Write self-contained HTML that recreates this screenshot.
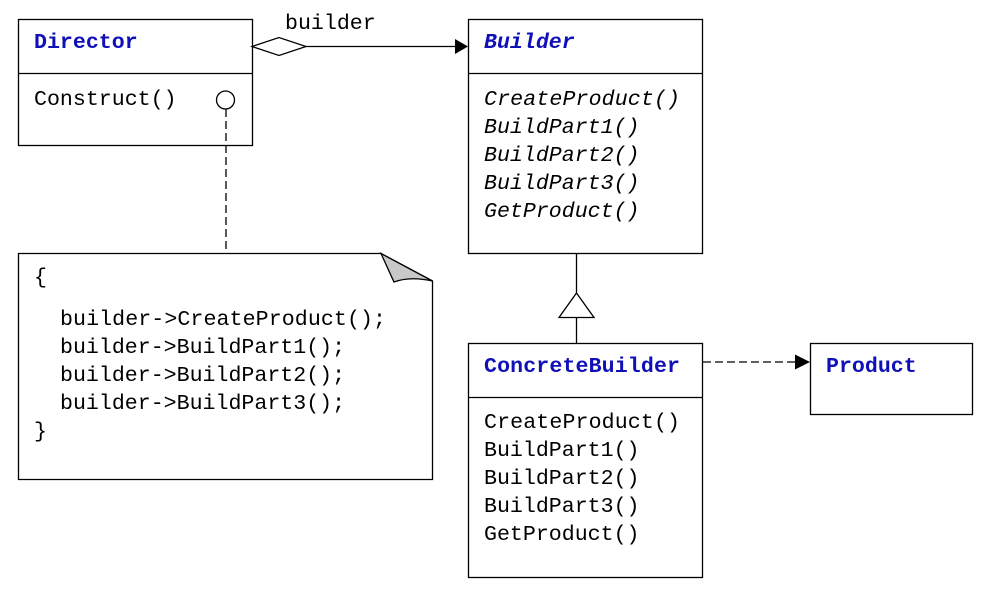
<!DOCTYPE html>
<html><head><meta charset="utf-8"><style>
html,body{margin:0;padding:0;background:#fff;}
svg{display:block;}
text{font-family:"Liberation Mono","DejaVu Sans Mono",monospace;font-size:21.6px;fill:#000;}
.t{fill:#1010b8;font-weight:bold;}
.i{font-style:italic;}
</style></head><body>
<svg width="989" height="598" viewBox="0 0 989 598" xmlns="http://www.w3.org/2000/svg">
<g fill="none" stroke="#000" stroke-width="1.3">
<rect x="18.5" y="19.5" width="234" height="126"/>
<line x1="18" y1="73.5" x2="252" y2="73.5"/>
<rect x="468.5" y="19.5" width="234" height="234"/>
<line x1="468" y1="73.5" x2="702" y2="73.5"/>
<rect x="468.5" y="343.5" width="234" height="234"/>
<line x1="468" y1="397.5" x2="702" y2="397.5"/>
<rect x="810.5" y="343.5" width="162" height="71"/>
<path d="M18.5 253.5 H381 L432.5 281 V479.5 H18.5 Z"/>
<path d="M381 253.5 L394 282 Q410 276 432.5 281 Z" fill="#c8c8c8"/>
<path d="M252 46.5 L279 37.5 L306 46.5 L279 55.5 Z" fill="#fff"/>
<line x1="306" y1="46.5" x2="456" y2="46.5"/>
<circle cx="225.5" cy="100" r="9" fill="#fff"/>
<line x1="226" y1="109" x2="226" y2="253" stroke-dasharray="8,4"/>
<line x1="576.5" y1="253" x2="576.5" y2="293"/>
<path d="M576.5 293 L594 317.5 H559 Z" fill="#fff"/>
<line x1="576.5" y1="317" x2="576.5" y2="343"/>
<line x1="703" y1="362" x2="796" y2="362" stroke-dasharray="8,4"/>
</g>
<path d="M455 39 L468 46.5 L455 54 Z" fill="#000"/>
<path d="M795 354.5 L810 362 L795 369.5 Z" fill="#000"/>
<text x="285" y="29">builder</text>
<text class="t" x="34" y="48">Director</text>
<text x="34" y="105">Construct()</text>
<text class="t i" x="484" y="48">Builder</text>
<text class="i" x="484" y="105" textLength="196">CreateProduct()</text>
<text class="i" x="484" y="133">BuildPart1()</text>
<text class="i" x="484" y="161">BuildPart2()</text>
<text class="i" x="484" y="189">BuildPart3()</text>
<text class="i" x="484" y="217">GetProduct()</text>
<text class="t" x="484" y="372" textLength="196">ConcreteBuilder</text>
<text x="484" y="428" textLength="196">CreateProduct()</text>
<text x="484" y="456">BuildPart1()</text>
<text x="484" y="484">BuildPart2()</text>
<text x="484" y="512">BuildPart3()</text>
<text x="484" y="540">GetProduct()</text>
<text class="t" x="826" y="372">Product</text>
<text x="34" y="283">{</text>
<text x="60" y="325" textLength="326">builder-&gt;CreateProduct();</text>
<text x="60" y="353">builder-&gt;BuildPart1();</text>
<text x="60" y="381">builder-&gt;BuildPart2();</text>
<text x="60" y="409">builder-&gt;BuildPart3();</text>
<text x="34" y="437">}</text>
</svg>
</body></html>
